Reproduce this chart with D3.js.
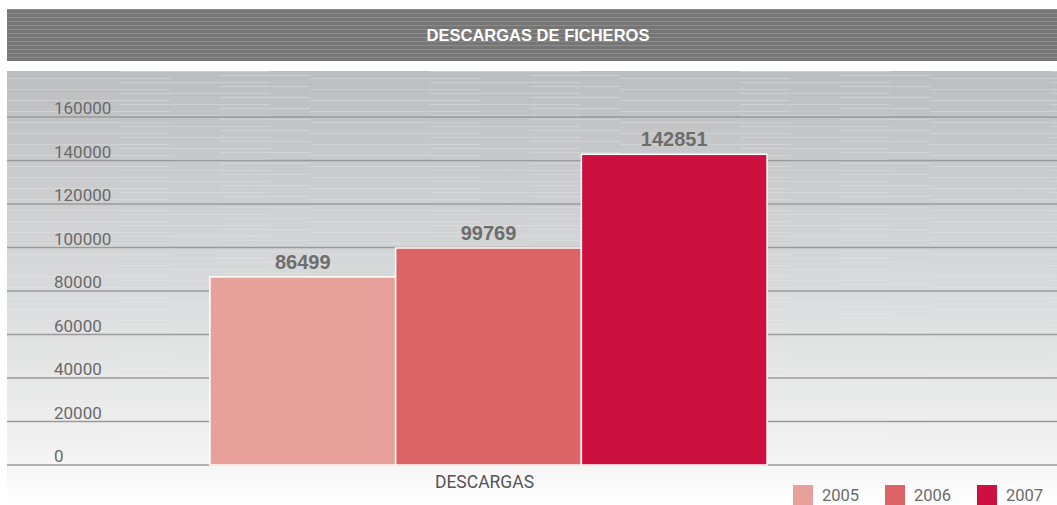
<!DOCTYPE html>
<html>
<head>
<meta charset="utf-8">
<script src="https://cdn.jsdelivr.net/npm/d3@7"></script>
<style>
  body { margin: 0; background: #fff; }
  svg { display: block; }
</style>
</head>
<body>
<div id="chart"></div>
<script>
// data
const categories = ['DESCARGAS'];
const years = ['2005', '2006', '2007'];
const values = [86499, 99769, 142851];
const yTicks = [0, 20000, 40000, 60000, 80000, 100000, 120000, 140000, 160000];
const colors = ['#e8a09a', '#dc6467', '#cc1040'];
const title = 'DESCARGAS DE FICHEROS';

const width = 1057;
const height = 505;

const svg = d3
  .select('#chart')
  .append('svg')
  .attr('width', width)
  .attr('height', height);

const defs = svg.append('defs');

// stripes for title bar
const titlePat = defs
  .append('pattern')
  .attr('id', 'titleStripes')
  .attr('patternUnits', 'userSpaceOnUse')
  .attr('width', 40)
  .attr('height', 4);
titlePat.append('rect').attr('width', 40).attr('height', 4).attr('fill', '#767676');
titlePat.append('rect').attr('y', 1).attr('width', 40).attr('height', 1).attr('fill', '#8c8c8c');

// background gradient of panel
const bg = defs
  .append('linearGradient')
  .attr('id', 'panelGrad')
  .attr('x1', 0).attr('y1', 0).attr('x2', 0).attr('y2', 1);
bg.append('stop').attr('offset', '0%').attr('stop-color', '#bcbdbf');
bg.append('stop').attr('offset', '45%').attr('stop-color', '#d6d7d8');
bg.append('stop').attr('offset', '85%').attr('stop-color', '#f0f0f0');
bg.append('stop').attr('offset', '100%').attr('stop-color', '#ffffff');

// subtle irregular streaks on the panel
const panelPat = defs
  .append('pattern')
  .attr('id', 'panelStripes')
  .attr('patternUnits', 'userSpaceOnUse')
  .attr('width', 310)
  .attr('height', 11);
panelPat.append('rect').attr('x', 0).attr('y', 1).attr('width', 170).attr('height', 1).attr('fill', '#ffffff');
panelPat.append('rect').attr('x', 120).attr('y', 5).attr('width', 150).attr('height', 1).attr('fill', '#ffffff');
panelPat.append('rect').attr('x', 220).attr('y', 9).attr('width', 140).attr('height', 1).attr('fill', '#ffffff');

const fade = defs
  .append('linearGradient')
  .attr('id', 'fadeGrad')
  .attr('x1', 0).attr('y1', 0).attr('x2', 0).attr('y2', 1);
fade.append('stop').attr('offset', '0%').attr('stop-color', '#fff').attr('stop-opacity', 1);
fade.append('stop').attr('offset', '80%').attr('stop-color', '#fff').attr('stop-opacity', 0.3);
fade.append('stop').attr('offset', '100%').attr('stop-color', '#fff').attr('stop-opacity', 0);
const mask = defs.append('mask').attr('id', 'fadeMask');
mask.append('rect').attr('x', 7).attr('y', 71).attr('width', 1050).attr('height', 434).attr('fill', 'url(#fadeGrad)');

// title bar
svg.append('rect')
  .attr('x', 7).attr('y', 9)
  .attr('width', width - 7).attr('height', 52)
  .attr('fill', 'url(#titleStripes)');

svg.append('text')
  .attr('x', 538)
  .attr('y', 41)
  .attr('text-anchor', 'middle')
  .attr('fill', '#ffffff')
  .attr('font-family', 'Liberation Sans, Arial, sans-serif')
  .attr('font-weight', 'bold')
  .attr('font-size', 16.5)
  .text(title);

// panel
svg.append('rect')
  .attr('x', 7).attr('y', 71)
  .attr('width', width - 7).attr('height', height - 71)
  .attr('fill', 'url(#panelGrad)');
svg.append('rect')
  .attr('x', 7).attr('y', 71)
  .attr('width', width - 7).attr('height', height - 71)
  .attr('fill', 'url(#panelStripes)')
  .attr('opacity', 0.25)
  .attr('mask', 'url(#fadeMask)');

// scales
const y = d3.scaleLinear().domain([0, 160000]).range([465, 117]);

const x0 = d3
  .scaleBand()
  .domain(categories)
  .range([45, 932])
  .paddingInner(0)
  .paddingOuter(0.296);

const x1 = d3.scaleBand().domain(years).range([0, x0.bandwidth()]).padding(0);

const color = d3.scaleOrdinal().domain(years).range(colors);

// gridlines + labels
const grid = svg.append('g');
grid
  .selectAll('line')
  .data(yTicks)
  .join('line')
  .attr('x1', 7)
  .attr('x2', width)
  .attr('y1', (d) => y(d))
  .attr('y2', (d) => y(d))
  .attr('stroke', '#9a9a9a')
  .attr('stroke-width', 1.5);

grid
  .selectAll('text')
  .data(yTicks)
  .join('text')
  .attr('x', 54)
  .attr('y', (d) => y(d) - 3)
  .attr('fill', '#6a6a6a')
  .attr('font-family', 'Roboto, Liberation Sans, sans-serif')
  .attr('font-size', 17)
  .text((d) => d);

// bars
const barData = years.map((yr, i) => ({ cat: categories[0], year: yr, value: values[i] }));

const bars = svg.append('g');
bars
  .selectAll('rect')
  .data(barData)
  .join('rect')
  .attr('x', (d) => x0(d.cat) + x1(d.year))
  .attr('y', (d) => y(d.value))
  .attr('width', x1.bandwidth())
  .attr('height', (d) => y(0) - y(d.value))
  .attr('fill', (d) => color(d.year))
  .attr('stroke', '#ffffff')
  .attr('stroke-width', 1.5);

bars
  .selectAll('text')
  .data(barData)
  .join('text')
  .attr('x', (d) => x0(d.cat) + x1(d.year) + x1.bandwidth() / 2)
  .attr('y', (d) => y(d.value) - 8)
  .attr('text-anchor', 'middle')
  .attr('fill', '#6d6d6d')
  .attr('font-family', 'Liberation Sans, Arial, sans-serif')
  .attr('font-weight', 'bold')
  .attr('font-size', 20)
  .text((d) => d.value);

// category label
svg
  .selectAll('.cat-label')
  .data(categories)
  .join('text')
  .attr('class', 'cat-label')
  .attr('x', (d) => x0(d) + x0.bandwidth() / 2 - 4)
  .attr('y', 488)
  .attr('text-anchor', 'middle')
  .attr('fill', '#555555')
  .attr('font-family', 'Roboto, Liberation Sans, sans-serif')
  .attr('font-size', 17.5)
  .text((d) => d);

// legend
const legendX = [793, 885, 977];
const legend = svg
  .selectAll('.legend')
  .data(years)
  .join('g')
  .attr('class', 'legend')
  .attr('transform', (d, i) => 'translate(' + legendX[i] + ',485)');

legend
  .append('rect')
  .attr('width', 20)
  .attr('height', 20)
  .attr('fill', (d) => color(d));

legend
  .append('text')
  .attr('x', 29)
  .attr('y', 16)
  .attr('fill', '#6a6a6a')
  .attr('font-family', 'Roboto, Liberation Sans, sans-serif')
  .attr('font-size', 16.5)
  .text((d) => d);
</script>
</body>
</html>
